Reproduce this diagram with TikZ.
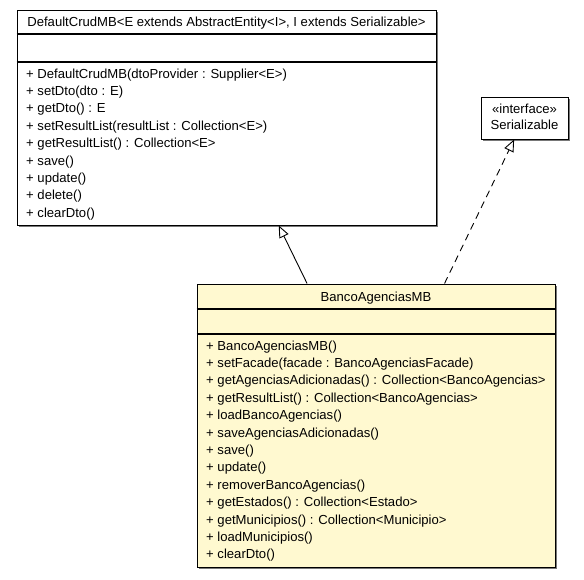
\documentclass[tikz,border=0pt]{standalone}
\usepackage{fontspec}
\setmainfont{Liberation Sans}
\usetikzlibrary{arrows.meta,shadows}
\definecolor{classfill}{RGB}{255,249,208}
\definecolor{shadowgray}{RGB}{120,120,120}
\begin{document}
\begin{tikzpicture}[x=1pt,y=-1pt,
  umlbox/.style={rectangle, draw=black, line width=1pt, inner sep=0pt, fill=white,
    drop shadow={shadow xshift=1.6pt, shadow yshift=-1.6pt, fill=shadowgray, opacity=1}},
  divider/.style={draw=black, line width=1.4pt},
  umltext/.style={inner sep=0pt, font=\fontsize{13.1}{15}\selectfont},
  member/.style={umltext, anchor=base west},
  title/.style={umltext, anchor=base},
  generalization/.style={draw=black, line width=0.9pt, -{Triangle[length=12pt, width=10pt, fill=white]}},
  realization/.style={generalization, dash pattern=on 7pt off 5pt}
]
\useasboundingbox (0,0) rectangle (584,579);

% generic base class
\node[umlbox, minimum width=419pt, minimum height=215pt] (dcm) at (226.5,117.5) {};
\draw[divider] (dcm.west |- 0,34) -- (dcm.east |- 0,34);
\draw[divider] (dcm.west |- 0,62) -- (dcm.east |- 0,62);
\node[title] (dcmname) at (226.5,26) {DefaultCrudMB<E extends AbstractEntity<I>, I extends Serializable>};
\foreach [count=\i from 0] \t in {
  {+ DefaultCrudMB(dtoProvider : Supplier<E>)},
  {+ setDto(dto : E)},
  {+ getDto() : E},
  {+ setResultList(resultList : Collection<E>)},
  {+ getResultList() : Collection<E>},
  {+ save()},
  {+ update()},
  {+ delete()},
  {+ clearDto()}}
  \node[member] (dcmop\i) at (26,78+17.4*\i) {\t};

% interface
\node[umlbox, minimum width=87pt, minimum height=42pt] (ser) at (524.5,118) {};
\node[title] (serstereo) at (524.5,113) {«interface»};
\node[title] (sername) at (524.5,129.5) {Serializable};

% concrete managed bean
\node[umlbox, fill=classfill, minimum width=358pt, minimum height=283pt] (bam) at (376,425.5) {};
\draw[divider] (bam.west |- 0,309) -- (bam.east |- 0,309);
\draw[divider] (bam.west |- 0,334) -- (bam.east |- 0,334);
\node[title] (bamname) at (376,301) {BancoAgenciasMB};
\foreach [count=\i from 0] \t in {
  {+ BancoAgenciasMB()},
  {+ setFacade(facade : BancoAgenciasFacade)},
  {+ getAgenciasAdicionadas() : Collection<BancoAgencias>},
  {+ getResultList() : Collection<BancoAgencias>},
  {+ loadBancoAgencias()},
  {+ saveAgenciasAdicionadas()},
  {+ save()},
  {+ update()},
  {+ removerBancoAgencias()},
  {+ getEstados() : Collection<Estado>},
  {+ getMunicipios() : Collection<Municipio>},
  {+ loadMunicipios()},
  {+ clearDto()}}
  \node[member] (bamop\i) at (206,350+17.4*\i) {\t};

% relations
\draw[generalization] (bam) -- (dcm);
\draw[realization] (bam) -- (ser);
\end{tikzpicture}
\end{document}
